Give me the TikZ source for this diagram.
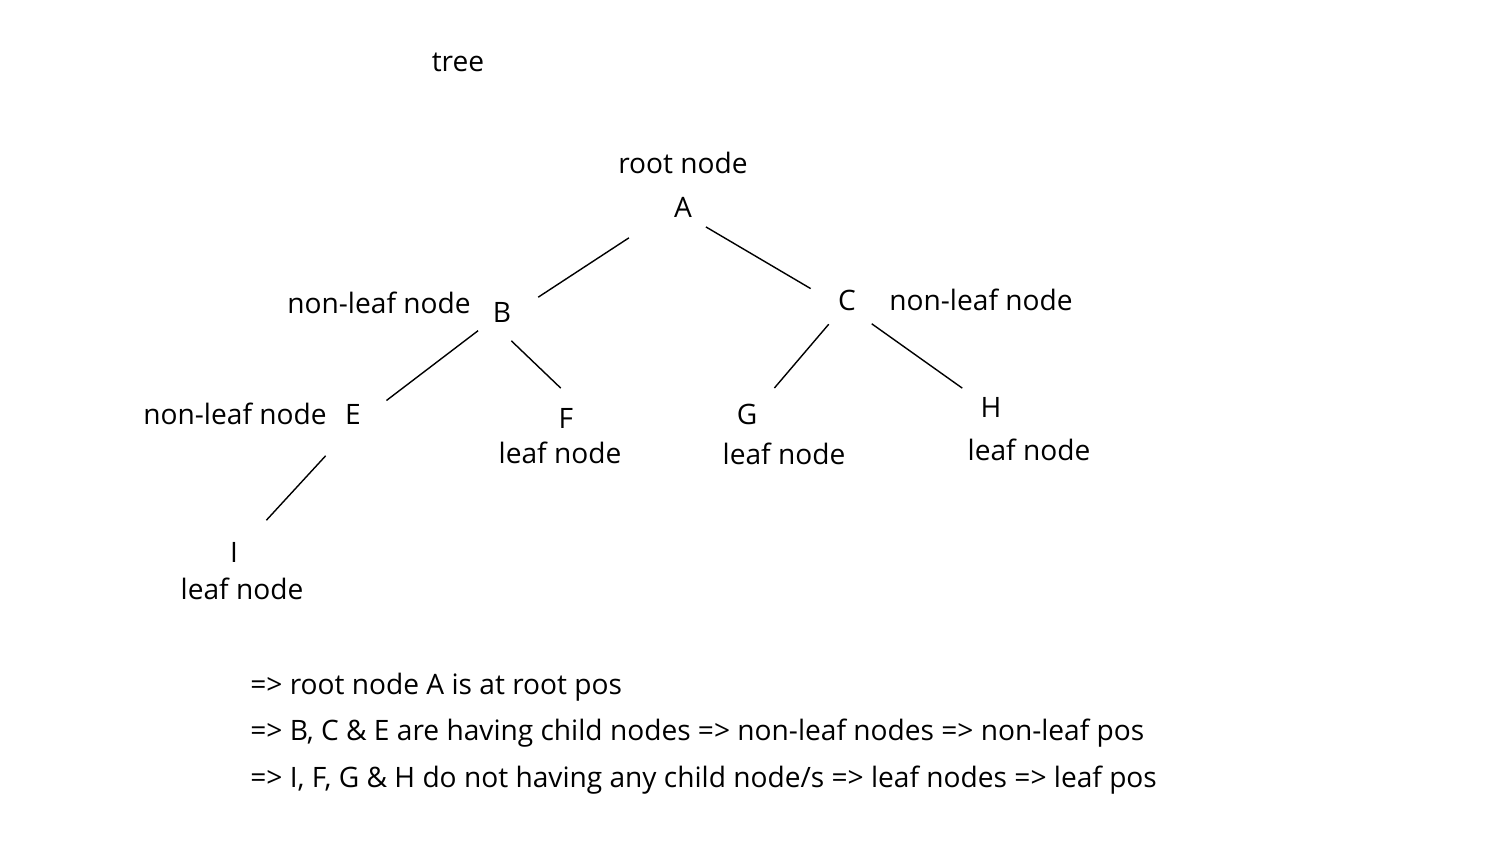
\documentclass[tikz,border=0pt]{standalone}
\usepackage{fontspec}
\setmainfont{Open Sans}
\usetikzlibrary{positioning}

\tikzset{
  letter/.style={circle,minimum size=1.2cm,inner sep=0pt},
  lbl/.style={inner sep=0pt,font=\fontsize{16}{19}\selectfont},
  note/.style={inner sep=0pt,anchor=west,font=\fontsize{16}{19}\selectfont},
}

\begin{document}
\begin{tikzpicture}[node distance=2cm,on grid,font=\fontsize{16}{19}\selectfont]
   \useasboundingbox (-13.66,4.14) rectangle (16.28,-13.22);
   \node[letter] (A) {A};
   \node[lbl] (root) [above=0.88cm of A] {root node};
   \node[lbl] (tree) [above left=2.9cm and 4.5cm of A] {tree};
   \node[letter] (B) [below left=2.1cm and 3.62cm of A] {B};
   \node[letter] (C) [below right=1.86cm and 3.28cm of A] {C};
   \node[lbl] (B_l) [above left=0.18cm and 2.46cm of B] {non-leaf node};
   \node[lbl] (C_l) [right=2.68cm of C] {non-leaf node};
   \node[letter] (E) [below left=2.04cm and 2.98cm of B] {E};
   \node[lbl] (E_l) [left=2.36cm of E] {non-leaf node};
   \node[letter] (F) [below right=2.12cm and 1.28cm of B] {F};
   \node[lbl] (F_l) [below left=0.7cm and 0.12cm of F] {leaf node};
   \node[letter] (G) [below left=2.28cm and 2cm of C] {G};
   \node[lbl] (G_l) [below right=0.8cm and 0.74cm of G] {leaf node};
   \node[letter] (H) [below right=2.14cm and 2.88cm of C] {H};
   \node[lbl] (H_l) [below right=0.86cm and 0.76cm of H] {leaf node};
   \node[letter] (I) [below left=2.76cm and 2.38cm of E] {I};
   \node[lbl] (I_l) [below right=0.74cm and 0.16cm of I] {leaf node};
   % notes
   \node[note] (n_1) [below right=2.7cm and 0.32cm of I, anchor=west] {=> root node A is at root pos};
   \node[note] (n_2) [below=0.92cm of n_1.west, anchor=west] {=> B, C \& E are having child nodes => non-leaf nodes => non-leaf pos};
   \node[note] (n_3) [below=0.94cm of n_2.west, anchor=west] {=> I, F, G \& H do not having any child node/s => leaf nodes => leaf pos};
    \path[thick]
    (A.206) edge [shorten <=0.64cm, shorten >=0.18cm] (B.19)
    (A.319) edge [shorten >=0.16cm] (C.166)
    (B.218) edge [shorten >=0.12cm] (E.19)
    (B.288) edge (F.100)
    (C.233) edge [shorten >=0.15cm] (G.42)
    (C.315) edge [shorten <=0.08cm, shorten >=0.08cm] (H.147)
    (E.243) edge [shorten <=0.4cm, shorten >=0.3cm] (I.43);
\end{tikzpicture}
\end{document}
